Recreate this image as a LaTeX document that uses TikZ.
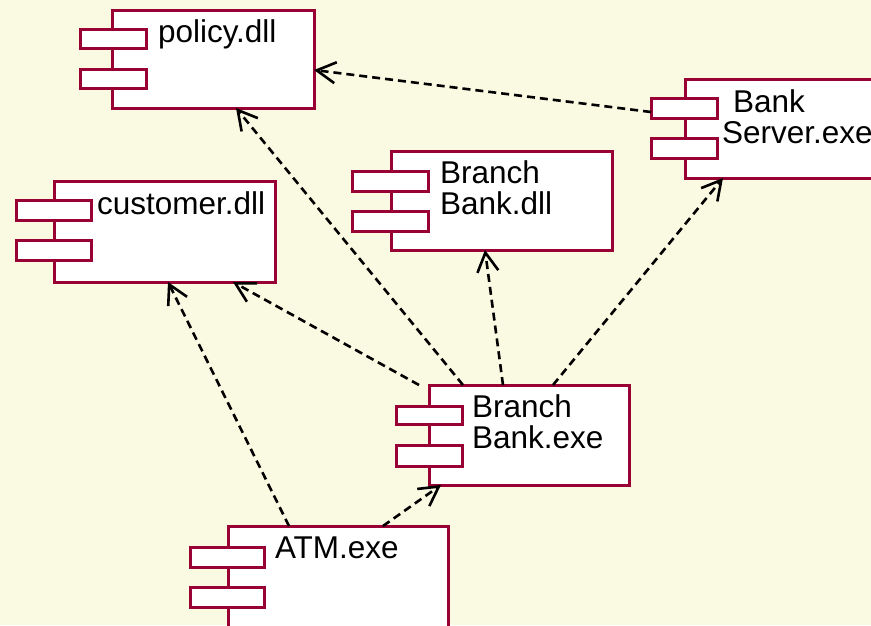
\documentclass[tikz,border=0pt]{standalone}
\usepackage{fontspec}
\setmainfont{Liberation Sans}
\usetikzlibrary{arrows.meta}
\definecolor{bgcream}{RGB}{250,249,226}
\definecolor{compred}{RGB}{153,0,51}
\tikzset{
  comp/.style={draw=compred, fill=white, line width=3pt, inner sep=0pt,
    outer sep=0pt, anchor=north west},
  port/.style={draw=compred, fill=white, line width=3pt, inner sep=0pt,
    outer sep=0pt, anchor=north west, minimum height=19pt},
  lbl/.style={inner sep=0pt, outer sep=0pt, anchor=base west, align=left,
    font=\fontsize{31.5pt}{31pt}\selectfont},
  dep/.style={draw=black, line width=2.6pt, dash pattern=on 8pt off 5pt,
    -{Straight Barb[length=19pt,width=21pt,line width=2.6pt]}},
}
\begin{document}
\begin{tikzpicture}[x=1pt,y=-1pt]
  \clip (0,0) rectangle (871,625);
  \fill[bgcream] (0,0) rectangle (871,625);

  % policy.dll
  \node[comp, minimum width=202pt, minimum height=98pt] (policy) at (112,10) {};
  \node[port, minimum width=66pt] (policyA) at (80,29) {};
  \node[port, minimum width=66pt] (policyB) at (80,69) {};
  \node[lbl] (policyT) at (158,42) {policy.dll};

  % customer.dll
  \node[comp, minimum width=221pt, minimum height=101pt] (cust) at (54,181) {};
  \node[port, minimum width=75pt, minimum height=20pt] (custA) at (16,200) {};
  \node[port, minimum width=75pt, minimum height=20pt] (custB) at (16,240) {};
  \node[lbl] (custT) at (97,214) {customer.dll};

  % Branch Bank.dll (two-line labels are placed by their last baseline)
  \node[comp, minimum width=221pt, minimum height=99pt] (bbdll) at (391,151) {};
  \node[port, minimum width=76pt, minimum height=20pt] (bbdllA) at (352,171) {};
  \node[port, minimum width=76pt, minimum height=20pt] (bbdllB) at (352,211) {};
  \node[lbl] (bbdllT) at (440,214) {Branch\\Bank.dll};

  % Bank Server.exe
  \node[comp, minimum width=230pt, minimum height=99pt] (srv) at (685,79) {};
  \node[port, minimum width=66pt, minimum height=20pt] (srvA) at (651,98) {};
  \node[port, minimum width=66pt, minimum height=20pt] (srvB) at (651,138) {};
  \node[lbl] (srvT) at (722,143) {\hspace*{11pt}Bank\\Server.exe};

  % Branch Bank.exe
  \node[comp, minimum width=200pt, minimum height=100pt] (bbexe) at (429,385) {};
  \node[port, minimum width=66pt, minimum height=18pt] (bbexeA) at (396,406) {};
  \node[port, minimum width=66pt, minimum height=21pt] (bbexeB) at (396,445) {};
  \node[lbl] (bbexeT) at (472,448) {Branch\\Bank.exe};

  % ATM.exe
  \node[comp, minimum width=220pt, minimum height=130pt] (atm) at (228,526) {};
  \node[port, minimum width=74pt, minimum height=20pt] (atmA) at (190,547) {};
  \node[port, minimum width=74pt, minimum height=20pt] (atmB) at (190,587) {};
  \node[lbl] (atmT) at (275,558) {ATM.exe};

  % dependencies
  \draw[dep] ([yshift=-4pt]srvA.west) -- ([yshift=-11pt]policy.east);
  \draw[dep] ([xshift=34pt]bbexe.north west) -- ([xshift=124pt]policy.south west);
  \draw[dep] ([xshift=-10pt]bbexe.north west) -- ([xshift=179pt]cust.south west);
  \draw[dep] ([xshift=74pt]bbexe.north west) -- ([xshift=94pt]bbdll.south west);
  \draw[dep] ([xshift=124pt]bbexe.north west) -- ([xshift=38pt]srv.south west);
  \draw[dep] ([xshift=61pt]atm.north west) -- ([xshift=114pt]cust.south west);
  \draw[dep] ([xshift=155pt]atm.north west) -- ([xshift=12pt]bbexe.south west);
\end{tikzpicture}
\end{document}
